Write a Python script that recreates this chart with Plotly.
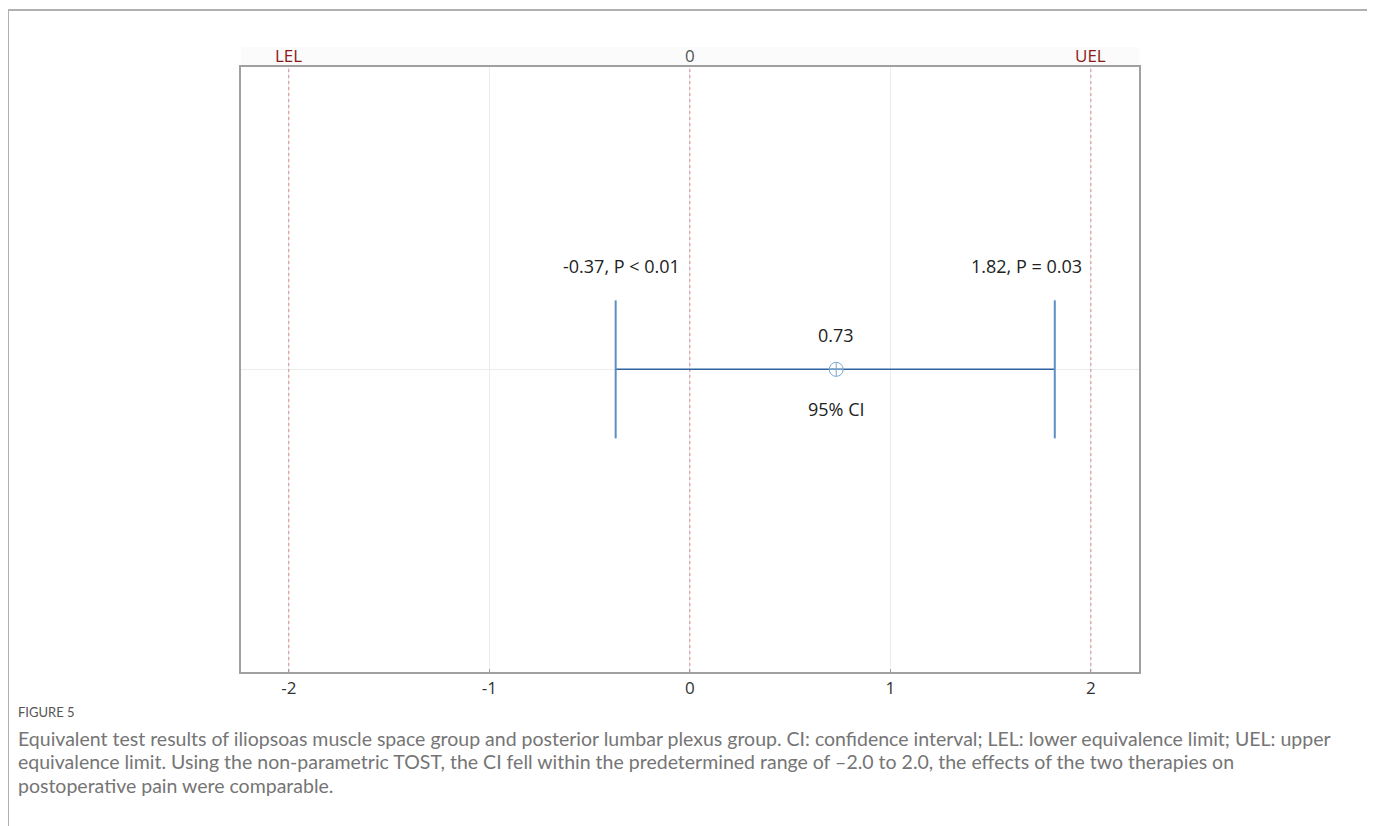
import plotly.graph_objects as go

# data
ci_lower = -0.37
ci_upper = 1.82
point_est = 0.73
lel, uel = -2.0, 2.0
ref_lines = [lel, 0, uel]
top_labels = ["LEL", "0", "UEL"]
top_colors = ["#8b1a1a", "#555555", "#8b1a1a"]
x_ticks = [-2, -1, 0, 1, 2]
lower_label = "-0.37, P < 0.01"
upper_label = "1.82, P = 0.03"
est_label = "0.73"
ci_label = "95% CI"
caption_head = "FIGURE 5"
caption_lines = [
    "Equivalent test results of iliopsoas muscle space group and posterior lumbar plexus group. CI: confidence interval; LEL: lower equivalence limit; UEL: upper",
    "equivalence limit. Using the non-parametric TOST, the CI fell within the predetermined range of \u20132.0 to 2.0, the effects of the two therapies on",
    "postoperative pain were comparable.",
]

W, H = 1375, 826
OFF = 8  # body margin of the page


def px(x):
    return (x - OFF) / W


def py(y):
    return 1 - (y - OFF) / H


xd = [px(240.7), px(1139)]
yd = [py(672), py(66.7)]
whisk = 0.228

fig = go.Figure()
for v in ref_lines:
    fig.add_trace(go.Scatter(x=[v, v], y=[-1, 1], mode="lines",
                             line=dict(color="#d98a8a", width=1, dash="dot"),
                             hoverinfo="skip", showlegend=False))
fig.add_trace(go.Scatter(x=[ci_lower, ci_upper], y=[0, 0], mode="lines",
                         line=dict(color="#2f62a0", width=1.5), showlegend=False))
for v in [ci_lower, ci_upper]:
    fig.add_trace(go.Scatter(x=[v, v], y=[-whisk, whisk], mode="lines",
                             line=dict(color="#5a8fc4", width=2), showlegend=False))
fig.add_trace(go.Scatter(x=[point_est], y=[0], mode="markers",
                         marker=dict(symbol="circle-cross-open", size=14,
                                     color="#7fa7cf", line=dict(width=1)),
                         showlegend=False))

font_c = "Open Sans"
ann = []
for v, t, c in zip(ref_lines, top_labels, top_colors):
    ann.append(dict(x=v, y=yd[1], xref="x", yref="paper", text=t, showarrow=False,
                    yanchor="bottom", yshift=-2, font=dict(family=font_c, size=17, color=c)))
ann.append(dict(x=ci_lower, y=whisk, xref="x", yref="y", text=lower_label, showarrow=False,
                yanchor="bottom", xshift=6, yshift=20, font=dict(family=font_c, size=18, color="#222")))
ann.append(dict(x=ci_upper, y=whisk, xref="x", yref="y", text=upper_label, showarrow=False,
                yanchor="bottom", xshift=-28, yshift=20, font=dict(family=font_c, size=18, color="#222")))
ann.append(dict(x=point_est, y=0, xref="x", yref="y", text=est_label, showarrow=False,
                yanchor="bottom", yshift=20, font=dict(family=font_c, size=18, color="#222")))
ann.append(dict(x=point_est, y=0, xref="x", yref="y", text=ci_label, showarrow=False,
                yanchor="top", yshift=-26, font=dict(family=font_c, size=18, color="#222")))

cap_font = "Lato"
ann.append(dict(x=px(16), y=py(712), xref="paper", yref="paper", text=caption_head,
                showarrow=False, xanchor="left", yanchor="middle",
                font=dict(family=cap_font, size=13, color="#555")))
for i, line in enumerate(caption_lines):
    ann.append(dict(x=px(16), y=py(738 + 23.5 * i), xref="paper", yref="paper", text=line,
                    showarrow=False, xanchor="left", yanchor="middle",
                    font=dict(family=cap_font, size=19.5, color="#757575")))

shapes = [
    dict(type="rect", xref="paper", yref="paper", x0=px(8), x1=px(1369),
         y0=-0.2, y1=py(10), line=dict(color="#b0b0b0", width=2), layer="below"),
    dict(type="rect", xref="paper", yref="paper", x0=xd[0], x1=xd[1],
         y0=yd[1], y1=py(47), line=dict(width=0), fillcolor="#fbfbfb", layer="below"),
]

fig.update_layout(
    width=W, height=H, margin=dict(l=0, r=0, t=0, b=0),
    paper_bgcolor="white", plot_bgcolor="white",
    annotations=ann, shapes=shapes,
    xaxis=dict(domain=xd, range=[-2.24, 2.24], tickvals=x_ticks,
               ticktext=[str(v) for v in x_ticks], showgrid=True, gridcolor="#ececec",
               zeroline=False, showline=True, linecolor="#a0a0a0", linewidth=1.5, mirror=True,
               ticks="inside", ticklen=3, tickcolor="#a0a0a0",
               tickfont=dict(family=font_c, size=17, color="#333")),
    yaxis=dict(domain=yd, range=[-1, 1], showticklabels=False, tickvals=[0],
               showgrid=True, gridcolor="#ececec", zeroline=False,
               showline=True, linecolor="#a0a0a0", linewidth=1.5, mirror=True, ticks=""),
)
fig.write_html("out.html")
